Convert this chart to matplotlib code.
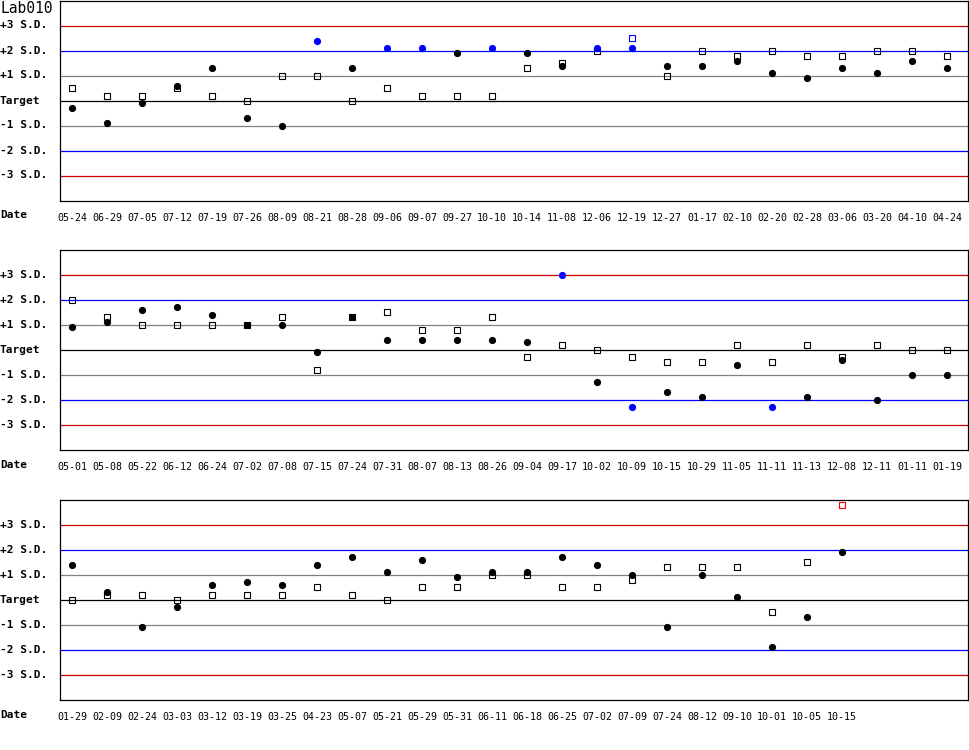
import matplotlib
matplotlib.use('Agg')
import matplotlib.pyplot as plt
import matplotlib.transforms as mtransforms

# ── data (values in S.D. units from target) ─────────────────────────────
p1_dates = ['05-24', '06-29', '07-05', '07-12', '07-19', '07-26', '08-09', '08-21',
            '08-28', '09-06', '09-07', '09-27', '10-10', '10-14', '11-08', '12-06',
            '12-19', '12-27', '01-17', '02-10', '02-20', '02-28', '03-06', '03-20',
            '04-10', '04-24']
p1_circles = [-0.29, -0.89, -0.09, 0.59, 1.31, -0.69, -1.01, 2.39, 1.31, 2.12, 2.12,
              1.91, 2.12, 1.91, 1.39, 2.12, 2.12, 1.39, 1.39, 1.59, 1.11, 0.91, 1.31,
              1.11, 1.59, 1.31]
p1_squares = [0.51, 0.19, 0.19, 0.51, 0.19, 0.0, 0.99, 0.99, 0.0, 0.51, 0.19, 0.19,
              0.19, 1.31, 1.52, 1.99, 2.51, 0.99, 1.99, 1.79, 1.99, 1.79, 1.79, 1.99,
              1.99, 1.79]
p1_solid = []

p2_dates = ['05-01', '05-08', '05-22', '06-12', '06-24', '07-02', '07-08', '07-15',
            '07-24', '07-31', '08-07', '08-13', '08-26', '09-04', '09-17', '10-02',
            '10-09', '10-15', '10-29', '11-05', '11-11', '11-13', '12-08', '12-11',
            '01-11', '01-19']
p2_circles = [0.91, 1.11, 1.59, 1.71, 1.39, None, 0.99, -0.09, None, 0.39, 0.39, 0.39,
              0.39, 0.31, 2.99, -1.29, -2.29, -1.69, -1.89, -0.61, -2.29, -1.89, -0.41,
              -2.0, -1.0, -1.0]
p2_squares = [1.99, 1.31, 0.99, 0.99, 0.99, 0.99, 1.31, -0.81, 1.31, 1.51, 0.79, 0.79,
              1.31, -0.29, 0.19, 0.0, -0.29, -0.49, -0.49, 0.19, -0.49, 0.19, -0.29,
              0.19, 0.0, 0.0]
p2_solid = ['07-02', '07-24']

p3_dates = ['01-29', '02-09', '02-24', '03-03', '03-12', '03-19', '03-25', '04-23',
            '05-07', '05-21', '05-29', '05-31', '06-11', '06-18', '06-25', '07-02',
            '07-09', '07-24', '08-12', '09-10', '10-01', '10-05', '10-15']
p3_circles = [1.39, 0.31, -1.09, -0.29, 0.59, 0.71, 0.59, 1.39, 1.71, 1.11, 1.59, 0.91,
              1.11, 1.11, 1.71, 1.39, 0.99, -1.09, 0.99, 0.11, -1.89, -0.69, 1.91]
p3_squares = [0.0, 0.19, 0.19, 0.0, 0.19, 0.19, 0.19, 0.51, 0.19, 0.0, 0.51, 0.51,
              0.99, 0.99, 0.51, 0.51, 0.79, 1.31, 1.31, 1.31, -0.49, 1.51, 3.79]
p3_solid = []

sd_levels = [3, 2, 1, 0, -1, -2, -3]
sd_labels = ['+3 S.D.', '+2 S.D.', '+1 S.D.', 'Target', '-1 S.D.', '-2 S.D.', '-3 S.D.']
n_slots = 26

W, H = 970, 750
MONO = 'DejaVu Sans Mono'
LINE_COL = {3: '#cc0000', 2: '#0000ff', 1: '#808080', 0: '#000000'}


def _color(v):
    if abs(v) > 3:
        return '#ff0000'
    if abs(v) > 2:
        return '#0000ff'
    return '#000000'


def _panel(fig, top_px, dates, circles, squares, solid, title=None):
    ax = fig.add_axes([60 / W, (H - top_px - 200) / H, 908 / W, 200 / H])
    ax.set_xlim((60 - 72) / 35, (968 - 72) / 35)
    ax.set_ylim(-4, 4)
    for s in ax.spines.values():
        s.set_linewidth(0.9)
        s.set_color('black')

    for lvl in sd_levels:
        ax.axhline(lvl, color=LINE_COL[abs(lvl)], linewidth=0.9, zorder=1)

    for i, (d, sq) in enumerate(zip(dates, squares)):
        if sq is None:
            continue
        filled = d in solid
        c = _color(sq)
        ax.plot(i, sq, marker='s', markersize=5.0, markeredgewidth=0.8,
                markeredgecolor=c, markerfacecolor=c if filled else 'none',
                linestyle='none', zorder=3)
    for i, ci in enumerate(circles):
        if ci is None:
            continue
        ax.plot(i, ci, marker='o', markersize=5.2, markeredgewidth=0,
                color=_color(ci), linestyle='none', zorder=4)

    ax.set_yticks([])
    ax.set_xticks(range(len(dates)))
    ax.set_xticklabels(dates, fontsize=7.2, family=MONO)
    ax.tick_params(axis='x', length=0, pad=9)

    trans = mtransforms.blended_transform_factory(fig.transFigure, ax.transData)
    for lvl, lab in zip(sd_levels, sd_labels):
        ax.text(0.0, lvl, lab, transform=trans, ha='left', va='center',
                fontsize=8, family=MONO, fontweight='bold')
    ax.text(0.0, -4.6, 'Date', transform=trans, ha='left', va='center',
            fontsize=8, family=MONO, fontweight='bold', clip_on=False)
    if title:
        ax.text(0.0, 3.68, title, transform=trans, ha='left', va='center',
                fontsize=10.5, family=MONO)
    return ax


fig = plt.figure(figsize=(W / 100, H / 100), dpi=100)
_panel(fig, 0.5, p1_dates, p1_circles, p1_squares, p1_solid, title='Lab010')
_panel(fig, 250, p2_dates, p2_circles, p2_squares, p2_solid)
_panel(fig, 500, p3_dates, p3_circles, p3_squares, p3_solid)

fig.savefig('out.png', dpi=100)
plt.close(fig)
